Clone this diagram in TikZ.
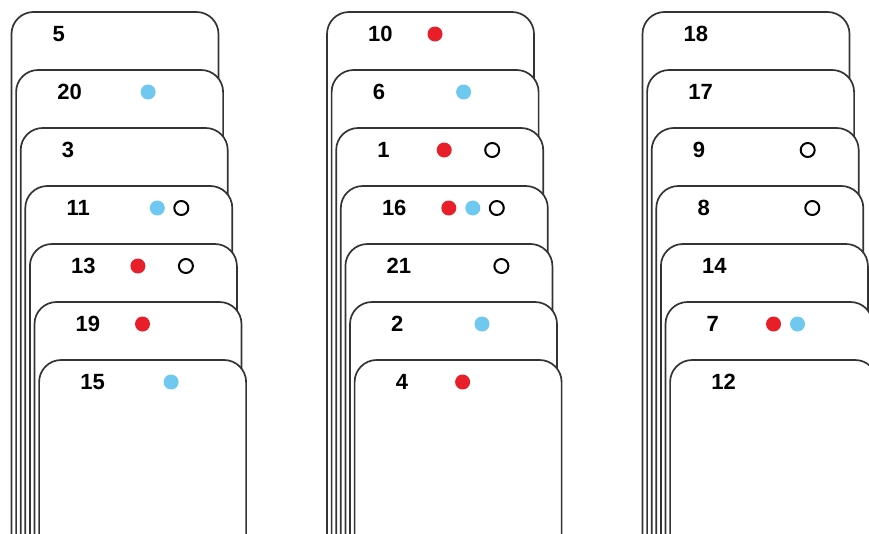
\documentclass[tikz,border=0pt]{standalone}
\usepackage{fontspec}
\setmainfont{Liberation Sans}
\usepackage{xcolor}
\usepackage{tikz}
\usetikzlibrary{positioning,calc}
\definecolor{dotred}{RGB}{232,30,40}
\definecolor{dotblue}{RGB}{110,200,240}

\begin{document}
\begin{tikzpicture}[
    x=1pt, y=1pt,
    font=\fontsize{22}{24}\selectfont\bfseries,
    card/.style={
        draw=black!80,
        line width=1.7pt,
        fill=white,
        rounded corners=22pt,
        minimum width=207pt,
        minimum height=560pt,
        inner sep=0pt,
        outer sep=0pt,
        anchor=north west
    },
    num/.style={
        anchor=west,
        inner sep=0pt
    },
    rdot/.style={
        circle,
        fill=dotred,
        minimum size=15pt,
        inner sep=0pt
    },
    bdot/.style={
        circle,
        fill=dotblue,
        minimum size=15pt,
        inner sep=0pt
    },
    ring/.style={
        circle,
        draw=black,
        line width=2pt,
        fill=white,
        minimum size=14pt,
        inner sep=0pt
    }
]

\useasboundingbox (0,0) rectangle (869,-533);
\clip (0,0) rectangle (869,-533);

% left stack
\node[card] (c5) at (11.5,-12) {};
\node[num] (n5) at ($(c5.north west)+(41,-22)$) {5};

\node[card] (c20) at (16.1,-70) {};
\node[num] (n20) at ($(c20.north west)+(41,-22)$) {20};
\node[bdot] (b20) at ($(c20.north west)+(132,-22)$) {};

\node[card] (c3) at (20.7,-128) {};
\node[num] (n3) at ($(c3.north west)+(41,-22)$) {3};

\node[card] (c11) at (25.3,-186) {};
\node[num] (n11) at ($(c11.north west)+(41,-22)$) {11};
\node[bdot] (b11) at ($(c11.north west)+(132,-22)$) {};
\node[ring] (o11) at ($(c11.north west)+(156,-22)$) {};

\node[card] (c13) at (29.9,-244) {};
\node[num] (n13) at ($(c13.north west)+(41,-22)$) {13};
\node[rdot] (r13) at ($(c13.north west)+(108,-22)$) {};
\node[ring] (o13) at ($(c13.north west)+(156,-22)$) {};

\node[card] (c19) at (34.5,-302) {};
\node[num] (n19) at ($(c19.north west)+(41,-22)$) {19};
\node[rdot] (r19) at ($(c19.north west)+(108,-22)$) {};

\node[card] (c15) at (39.1,-360) {};
\node[num] (n15) at ($(c15.north west)+(41,-22)$) {15};
\node[bdot] (b15) at ($(c15.north west)+(132,-22)$) {};

% middle stack
\node[card] (c10) at (327,-12) {};
\node[num] (n10) at ($(c10.north west)+(41,-22)$) {10};
\node[rdot] (r10) at ($(c10.north west)+(108,-22)$) {};

\node[card] (c6) at (331.6,-70) {};
\node[num] (n6) at ($(c6.north west)+(41,-22)$) {6};
\node[bdot] (b6) at ($(c6.north west)+(132,-22)$) {};

\node[card] (c1) at (336.2,-128) {};
\node[num] (n1) at ($(c1.north west)+(41,-22)$) {1};
\node[rdot] (r1) at ($(c1.north west)+(108,-22)$) {};
\node[ring] (o1) at ($(c1.north west)+(156,-22)$) {};

\node[card] (c16) at (340.8,-186) {};
\node[num] (n16) at ($(c16.north west)+(41,-22)$) {16};
\node[rdot] (r16) at ($(c16.north west)+(108,-22)$) {};
\node[bdot] (b16) at ($(c16.north west)+(132,-22)$) {};
\node[ring] (o16) at ($(c16.north west)+(156,-22)$) {};

\node[card] (c21) at (345.4,-244) {};
\node[num] (n21) at ($(c21.north west)+(41,-22)$) {21};
\node[ring] (o21) at ($(c21.north west)+(156,-22)$) {};

\node[card] (c2) at (350,-302) {};
\node[num] (n2) at ($(c2.north west)+(41,-22)$) {2};
\node[bdot] (b2) at ($(c2.north west)+(132,-22)$) {};

\node[card] (c4) at (354.6,-360) {};
\node[num] (n4) at ($(c4.north west)+(41,-22)$) {4};
\node[rdot] (r4) at ($(c4.north west)+(108,-22)$) {};

% right stack
\node[card] (c18) at (642.5,-12) {};
\node[num] (n18) at ($(c18.north west)+(41,-22)$) {18};

\node[card] (c17) at (647.1,-70) {};
\node[num] (n17) at ($(c17.north west)+(41,-22)$) {17};

\node[card] (c9) at (651.7,-128) {};
\node[num] (n9) at ($(c9.north west)+(41,-22)$) {9};
\node[ring] (o9) at ($(c9.north west)+(156,-22)$) {};

\node[card] (c8) at (656.3,-186) {};
\node[num] (n8) at ($(c8.north west)+(41,-22)$) {8};
\node[ring] (o8) at ($(c8.north west)+(156,-22)$) {};

\node[card] (c14) at (660.9,-244) {};
\node[num] (n14) at ($(c14.north west)+(41,-22)$) {14};

\node[card] (c7) at (665.5,-302) {};
\node[num] (n7) at ($(c7.north west)+(41,-22)$) {7};
\node[rdot] (r7) at ($(c7.north west)+(108,-22)$) {};
\node[bdot] (b7) at ($(c7.north west)+(132,-22)$) {};

\node[card] (c12) at (670.1,-360) {};
\node[num] (n12) at ($(c12.north west)+(41,-22)$) {12};

\end{tikzpicture}
\end{document}
